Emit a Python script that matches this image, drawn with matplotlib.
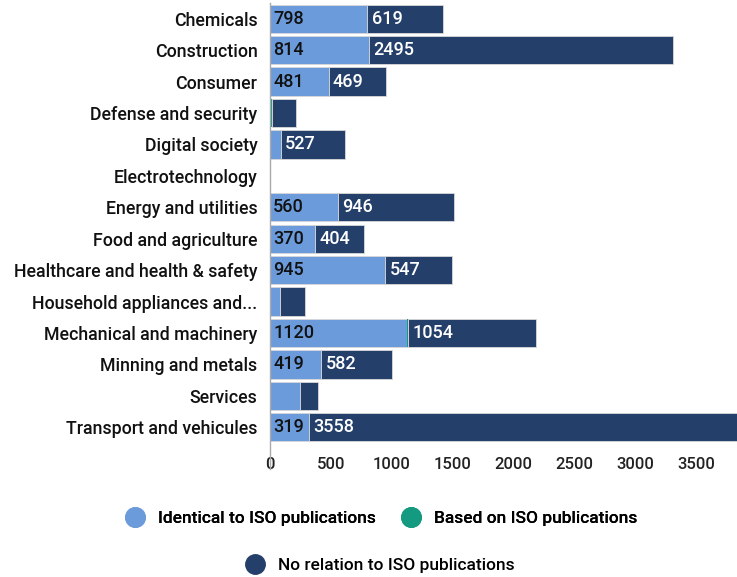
import matplotlib.pyplot as plt
import numpy as np
from matplotlib.lines import Line2D

plt.rcParams['font.family'] = ['Roboto', 'DejaVu Sans']

# data
sectors = ["Chemicals", "Construction", "Consumer", "Defense and security",
           "Digital society", "Electrotechnology", "Energy and utilities",
           "Food and agriculture", "Healthcare and health & safety",
           "Household appliances and...", "Mechanical and machinery",
           "Minning and metals", "Services", "Transport and vehicules"]
identical = np.array([798, 814, 481, 0, 90, 0, 560, 370, 945, 80, 1120, 419, 245, 319])
based = np.array([0, 0, 0, 15, 0, 0, 0, 0, 0, 0, 10, 0, 0, 0])
no_relation = np.array([619, 2495, 469, 200, 527, 0, 946, 404, 547, 210, 1054, 582, 150, 3558])
xticks = [0, 500, 1000, 1500, 2000, 2500, 3000, 3500]

c_ident = "#6c9bdb"
c_based = "#139a80"
c_norel = "#253f6b"

fig = plt.figure(figsize=(7.37, 5.77), dpi=100)
ax = fig.add_axes([270/737, 1-443/577, 467/737, 440/577])

y = np.arange(len(sectors))
h = 0.9
ax.barh(y, identical, height=h, color=c_ident, edgecolor="#d8d8d8", linewidth=0.6)
ax.barh(y, based, left=identical, height=h, color=c_based, edgecolor="none")
ax.barh(y, no_relation, left=identical + based, height=h, color=c_norel,
        edgecolor="#d8d8d8", linewidth=0.6)

# value labels
for i in range(len(sectors)):
    if identical[i] >= 300:
        ax.text(25, i, str(identical[i]), va="center", ha="left",
                fontsize=13, fontweight="medium", color="#111111")
    if no_relation[i] >= 300:
        ax.text(identical[i] + based[i] + 35, i, str(no_relation[i]), va="center",
                ha="left", fontsize=13, fontweight="medium", color="white")

ax.set_xlim(0, 3831)
ax.set_ylim(len(sectors) - 0.5, -0.5)
ax.set_yticks(y)
ax.set_yticklabels(sectors, fontsize=12.8, fontweight="medium", color="#111111")
ax.set_xticks(xticks)
ax.set_xticklabels([str(t) for t in xticks], fontsize=12, fontweight="medium", color="#222222")
ax.tick_params(length=0, pad=9)
ax.tick_params(axis="x", pad=10)
for s in ax.spines.values():
    s.set_visible(False)
ax.plot([0, 0], [1.0, -0.06], transform=ax.transAxes, color="#aaaaaa", lw=1, clip_on=False)

# legend
def dot(c):
    return Line2D([], [], marker="o", linestyle="none", markersize=14,
                  markerfacecolor=c, markeredgecolor=c)

leg1 = fig.legend([dot(c_ident), dot(c_based)],
                  ["Identical to ISO publications", "Based on ISO publications"],
                  loc="center", bbox_to_anchor=(0.512, 1-518/577), ncol=2, frameon=False,
                  prop={"size": 12.5, "weight": "medium"}, handletextpad=0.35, columnspacing=1.0)
fig.add_artist(leg1)
fig.legend([dot(c_norel)], ["No relation to ISO publications"],
           loc="center", bbox_to_anchor=(0.51, 1-565/577), frameon=False,
           prop={"size": 12.5, "weight": "medium"}, handletextpad=0.35)

fig.savefig("out.png", dpi=100)
